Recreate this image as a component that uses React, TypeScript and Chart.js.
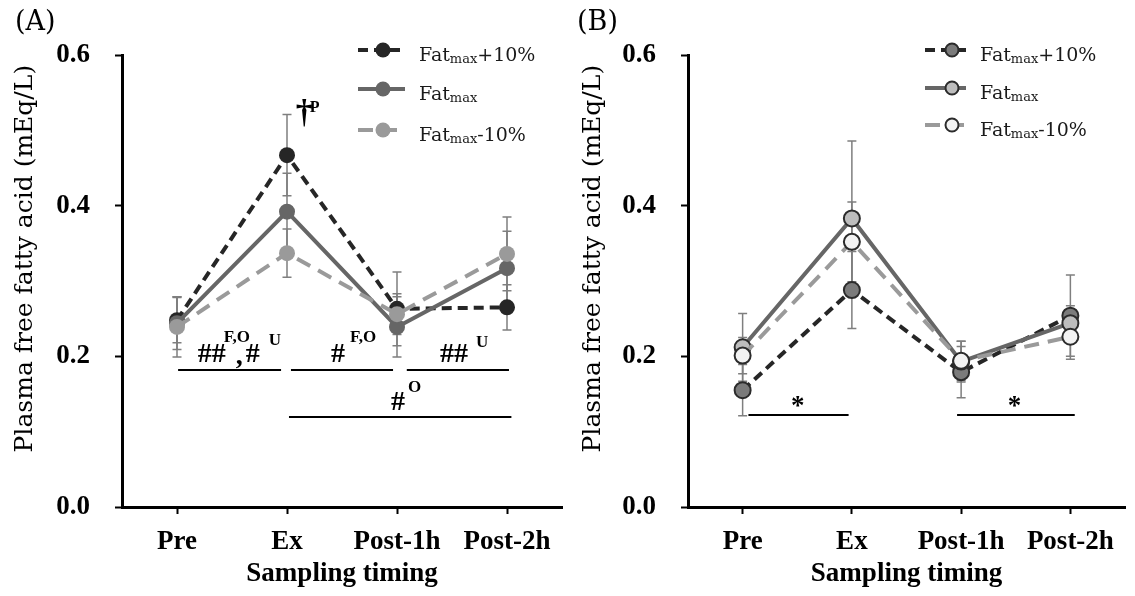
import React, { useEffect, useRef } from 'react';
import { Chart, registerables } from 'chart.js';

Chart.register(...registerables);

// ---------- data ----------
const categories = ['Pre', 'Ex', 'Post-1h', 'Post-2h'];
const seriesSuffix = ['+10%', '', '-10%'];
const yTickValues = [0, 0.2, 0.4, 0.6];

// Panel A
const aPlus10 = [0.248, 0.467, 0.263, 0.265];
const aFatmax = [0.244, 0.392, 0.239, 0.317];
const aMinus10 = [0.239, 0.337, 0.256, 0.336];
const aPlus10Sd = [0.03, 0.054, 0.049, 0.03];
const aFatmaxSd = [0.035, 0.051, 0.04, 0.049];
const aMinus10Sd = [0.04, 0.032, 0.027, 0.049];

// Panel B
const bPlus10 = [0.155, 0.288, 0.179, 0.254];
const bFatmax = [0.212, 0.383, 0.193, 0.244];
const bMinus10 = [0.201, 0.352, 0.194, 0.226];
const bPlus10Sd = [0.034, 0.051, 0.034, 0.054];
const bFatmaxSd = [0.045, 0.103, 0.027, 0.023];
const bMinus10Sd = [0.024, 0.053, 0.026, 0.03];

// significance brackets: [fromIndex, toIndex, value]
const aBrackets = [
  [0.01, 0.946, 0.182],
  [1.036, 1.964, 0.182],
  [2.089, 3.018, 0.182],
  [1.018, 3.04, 0.1195],
];
const bBrackets = [
  [0.053, 0.97, 0.122],
  [1.963, 3.04, 0.122],
];

// ---------- styles ----------
const REG = '"DejaVu Serif", serif';
const BOLD = '"Liberation Serif", serif';
const lineColors = ['#262626', '#666666', '#9a9a9a'];
const dashes = [[10, 6], [], [15, 9]];
const bFills = ['#7b7b7b', '#bdbdbd', '#f2f2f2'];

type Piece = { t: string; dx: number; dy: number; sup?: boolean };
type Label = { x: number; y: number; pieces: Piece[]; center?: boolean };

const aLabels: Label[] = [
  {
    x: 0.1875, y: 0.1926,
    pieces: [
      { t: '##', dx: 0, dy: 0 },
      { t: 'F,O', dx: 26, dy: -17, sup: true },
      { t: ',', dx: 38, dy: 7 },
      { t: '#', dx: 48, dy: 0 },
      { t: 'U', dx: 71, dy: -17, sup: true },
    ],
  },
  {
    x: 1.4, y: 0.1926,
    pieces: [
      { t: '#', dx: 0, dy: 0 },
      { t: 'F,O', dx: 19, dy: -17, sup: true },
    ],
  },
  {
    x: 2.39, y: 0.1926,
    pieces: [
      { t: '##', dx: 0, dy: 0 },
      { t: 'U', dx: 36, dy: -15, sup: true },
    ],
  },
  {
    x: 1.946, y: 0.1288,
    pieces: [
      { t: '#', dx: 0, dy: 0 },
      { t: 'O', dx: 17, dy: -18, sup: true },
    ],
  },
];
const bLabels: Label[] = [
  { x: 0.508, y: 0.14, center: true, pieces: [{ t: '*', dx: 0, dy: 0 }] },
  { x: 2.49, y: 0.14, center: true, pieces: [{ t: '*', dx: 0, dy: 0 }] },
];

type Spec = {
  id: string;
  panelLabel: string;
  left: number;
  width: number;
  padRight: number;
  series: number[][];
  sds: number[][];
  brackets: number[][];
  labels: Label[];
  outlined: boolean;
  legend: { x0: number; x1: number; mx: number; tx: number; rows: number[] };
  titleX: number;
  panelLabelX: number;
  dagger: boolean;
};

function drawInk(ctx: CanvasRenderingContext2D, text: string, font: string, left: number, bottom: number) {
  ctx.font = font;
  ctx.textAlign = 'left';
  ctx.textBaseline = 'alphabetic';
  const m = ctx.measureText(text);
  ctx.fillText(text, left + m.actualBoundingBoxLeft, bottom - m.actualBoundingBoxDescent);
}

function drawInkCenter(ctx: CanvasRenderingContext2D, text: string, font: string, cx: number, cy: number) {
  ctx.font = font;
  ctx.textAlign = 'left';
  ctx.textBaseline = 'alphabetic';
  const m = ctx.measureText(text);
  const w = m.actualBoundingBoxLeft + m.actualBoundingBoxRight;
  const h = m.actualBoundingBoxAscent + m.actualBoundingBoxDescent;
  ctx.fillText(text, cx - w / 2 + m.actualBoundingBoxLeft, cy + h / 2 - m.actualBoundingBoxDescent);
}

function makePlugin(spec: Spec) {
  return {
    id: 'extras' + spec.id,
    beforeDatasetsDraw(chart: any) {
      const ctx: CanvasRenderingContext2D = chart.ctx;
      const xs = chart.scales.x;
      const ys = chart.scales.y;
      ctx.save();
      ctx.strokeStyle = '#7f7f7f';
      ctx.lineWidth = 1.5;
      spec.series.forEach((vals, si) => {
        vals.forEach((v, i) => {
          const sd = spec.sds[si][i];
          const x = xs.getPixelForValue(i);
          const y0 = ys.getPixelForValue(v - sd);
          const y1 = ys.getPixelForValue(v + sd);
          ctx.beginPath();
          ctx.moveTo(x, y0);
          ctx.lineTo(x, y1);
          ctx.moveTo(x - 4.5, y0);
          ctx.lineTo(x + 4.5, y0);
          ctx.moveTo(x - 4.5, y1);
          ctx.lineTo(x + 4.5, y1);
          ctx.stroke();
        });
      });
      ctx.restore();
    },
    afterDatasetsDraw(chart: any) {
      const ctx: CanvasRenderingContext2D = chart.ctx;
      const xs = chart.scales.x;
      const ys = chart.scales.y;
      ctx.save();
      ctx.strokeStyle = '#000';
      ctx.fillStyle = '#000';
      ctx.lineWidth = 2;
      spec.brackets.forEach(([a, b, v]) => {
        const y = Math.round(ys.getPixelForValue(v));
        ctx.beginPath();
        ctx.moveTo(xs.getPixelForValue(a), y);
        ctx.lineTo(xs.getPixelForValue(b), y);
        ctx.stroke();
      });
      spec.labels.forEach((lab) => {
        const ax = xs.getPixelForValue(lab.x);
        const ay = ys.getPixelForValue(lab.y);
        lab.pieces.forEach((p) => {
          if (lab.center) {
            drawInkCenter(ctx, p.t, `bold 27px ${BOLD}`, ax + p.dx, ay + p.dy);
          } else {
            const font = p.sup ? `bold 17px ${BOLD}` : `bold 28px ${BOLD}`;
            drawInk(ctx, p.t, font, ax + p.dx, ay + p.dy);
          }
        });
      });
      if (spec.dagger) {
        const ax = xs.getPixelForValue(1.08);
        const ay = ys.getPixelForValue(0.5046);
        drawInk(ctx, '\u2020', `bold 34px ${BOLD}`, ax, ay);
        drawInk(ctx, 'P', `bold 16px ${BOLD}`, ax + 14, ay - 15);
      }
      ctx.restore();
    },
    afterDraw(chart: any) {
      const ctx: CanvasRenderingContext2D = chart.ctx;
      ctx.save();
      // legend
      const L = spec.legend;
      chart.data.datasets.forEach((ds: any, i: number) => {
        const y = L.rows[i];
        ctx.strokeStyle = ds.borderColor;
        ctx.lineWidth = ds.borderWidth;
        ctx.setLineDash(ds.borderDash || []);
        ctx.beginPath();
        ctx.moveTo(L.x0, y);
        ctx.lineTo(L.x1, y);
        ctx.stroke();
        ctx.setLineDash([]);
        ctx.beginPath();
        ctx.arc(L.mx, y, spec.outlined ? 6.5 : 7.5, 0, Math.PI * 2);
        ctx.fillStyle = ds.pointBackgroundColor;
        ctx.fill();
        if (spec.outlined) {
          ctx.lineWidth = 2;
          ctx.strokeStyle = ds.pointBorderColor;
          ctx.stroke();
        }
        ctx.fillStyle = '#1a1a1a';
        ctx.textAlign = 'left';
        ctx.textBaseline = 'alphabetic';
        let x = L.tx;
        const base = y + 11;
        ctx.font = `19px ${REG}`;
        ctx.fillText('Fat', x, base);
        x += ctx.measureText('Fat').width;
        ctx.font = `13px ${REG}`;
        ctx.fillText('max', x, base + 2);
        x += ctx.measureText('max').width;
        ctx.font = `19px ${REG}`;
        ctx.fillText(seriesSuffix[i], x, base);
      });
      // y title
      ctx.fillStyle = '#000';
      ctx.save();
      ctx.translate(spec.titleX, 259);
      ctx.rotate(-Math.PI / 2);
      drawInkCenter(ctx, 'Plasma free fatty acid (mEq/L)', `25px ${REG}`, 0, 0);
      ctx.restore();
      // panel label
      drawInk(ctx, spec.panelLabel, `27px ${REG}`, spec.panelLabelX, 35);
      ctx.restore();
    },
  };
}

function buildConfig(spec: Spec): any {
  const tickFont = { family: BOLD, size: 27, weight: 'bold' as const };
  return {
    type: 'line',
    data: {
      labels: categories,
      datasets: spec.series.map((vals, i) => ({
        label: 'Fatmax' + seriesSuffix[i],
        data: vals,
        borderColor: lineColors[i],
        borderWidth: 4,
        borderDash: dashes[i],
        pointRadius: 8,
        pointHoverRadius: 8,
        pointBackgroundColor: spec.outlined ? bFills[i] : lineColors[i],
        pointBorderColor: spec.outlined ? '#2b2b2b' : lineColors[i],
        pointBorderWidth: spec.outlined ? 2 : 0,
        tension: 0,
        fill: false,
        order: 2 - i,
      })),
    },
    options: {
      responsive: false,
      animation: false,
      devicePixelRatio: 1,
      layout: { padding: { top: 55, right: spec.padRight, left: 0, bottom: 0 } },
      plugins: { legend: { display: false }, tooltip: { enabled: false } },
      scales: {
        x: {
          type: 'category',
          offset: true,
          grid: {
            display: true,
            drawOnChartArea: false,
            drawTicks: true,
            tickLength: 7,
            tickWidth: 2,
            tickColor: '#000',
            offset: false,
          },
          border: { display: true, color: '#000', width: 3 },
          ticks: { color: '#000', font: tickFont, padding: 12, maxRotation: 0, autoSkip: false },
          title: {
            display: true,
            text: 'Sampling timing',
            color: '#000',
            font: tickFont,
            padding: { top: 0, bottom: 6 },
          },
          afterFit: (s: any) => {
            s.height = 89;
          },
        },
        y: {
          min: yTickValues[0],
          max: yTickValues[yTickValues.length - 1],
          afterBuildTicks: (s: any) => {
            s.ticks = yTickValues.map((v) => ({ value: v }));
          },
          ticks: {
            color: '#000',
            font: tickFont,
            padding: 25,
            callback: (v: any) => Number(v).toFixed(1),
          },
          grid: {
            display: true,
            drawOnChartArea: false,
            drawTicks: true,
            tickLength: 7,
            tickWidth: 2,
            tickColor: '#000',
          },
          border: { display: true, color: '#000', width: 3 },
          afterFit: (s: any) => {
            s.width = 122;
          },
        },
      },
    },
    plugins: [makePlugin(spec)],
  };
}

const specA: Spec = {
  id: 'A',
  panelLabel: '(A)',
  left: 0,
  width: 570,
  padRight: 1,
  series: [aPlus10, aFatmax, aMinus10],
  sds: [aPlus10Sd, aFatmaxSd, aMinus10Sd],
  brackets: aBrackets,
  labels: aLabels,
  outlined: false,
  legend: { x0: 358, x1: 405, mx: 383, tx: 419, rows: [50, 89, 130] },
  titleX: 25,
  panelLabelX: 17,
  dagger: true,
};

const specB: Spec = {
  id: 'B',
  panelLabel: '(B)',
  left: 566,
  width: 569,
  padRight: 0,
  series: [bPlus10, bFatmax, bMinus10],
  sds: [bPlus10Sd, bFatmaxSd, bMinus10Sd],
  brackets: bBrackets,
  labels: bLabels,
  outlined: true,
  legend: { x0: 359, x1: 400, mx: 386, tx: 414, rows: [50, 88, 125] },
  titleX: 27,
  panelLabelX: 13,
  dagger: false,
};

function Panel({ spec }: { spec: Spec }) {
  const ref = useRef<HTMLCanvasElement>(null);
  useEffect(() => {
    const chart = new Chart(ref.current as HTMLCanvasElement, buildConfig(spec));
    return () => chart.destroy();
  }, []);
  return (
    <canvas
      ref={ref}
      width={spec.width}
      height={596}
      style={{ position: 'absolute', left: spec.left, top: 0, width: spec.width, height: 596 }}
    />
  );
}

export default function App() {
  return (
    <div style={{ position: 'fixed', left: 0, top: 0, width: 1135, height: 596, background: '#fff', overflow: 'hidden' }}>
      <Panel spec={specA} />
      <Panel spec={specB} />
    </div>
  );
}
